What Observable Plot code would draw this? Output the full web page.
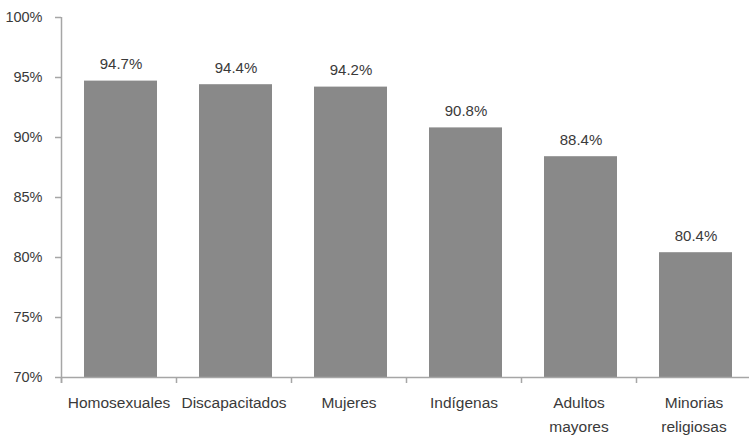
<!DOCTYPE html>
<html>
<head>
<meta charset="utf-8">
<script src="https://cdn.jsdelivr.net/npm/d3@7"></script>
<script src="https://cdn.jsdelivr.net/npm/@observablehq/plot@0.6"></script>
<style>
  html, body { margin: 0; padding: 0; background: #fff; }
  #chart svg { display: block; }
</style>
</head>
<body>
<div id="chart"></div>
<script>
const categories = ["Homosexuales", "Discapacitados", "Mujeres", "Indígenas", "Adultos\nmayores", "Minorias\nreligiosas"];
const values = [94.7, 94.4, 94.2, 90.8, 88.4, 80.4];
const valueLabels = ["94.7%", "94.4%", "94.2%", "90.8%", "88.4%", "80.4%"];
const yTicks = [70, 75, 80, 85, 90, 95, 100];

const data = categories.map((c, i) => ({cat: c, value: values[i], label: valueLabels[i]}));

const W = 749, H = 435, mL = 61, mR = -2;
const step = (W - mL - mR) / categories.length;
const axisColor = "#a6a6a6";
const textColor = "#3a3a3a";

const chart = Plot.plot({
  width: W,
  height: H,
  marginLeft: mL,
  marginRight: mR,
  marginTop: 17,
  marginBottom: 58,
  style: {fontFamily: "'Liberation Sans', Arial, sans-serif", fontSize: "14px", color: textColor, background: "#fff", overflow: "hidden"},
  x: {domain: categories, padding: 0},
  y: {domain: [70, 100]},
  marks: [
    Plot.barY(data, {x: "cat", y1: 70, y2: "value", fill: "#898989", insetLeft: 23, insetRight: 19}),
    Plot.text(data, {x: "cat", y: "value", text: "label", dy: -17, dx: 2, fontSize: 15, fill: textColor}),
    Plot.ruleY([70], {stroke: axisColor, strokeWidth: 1.5}),
    Plot.ruleX(categories, {x: d => d, dx: -step / 2, y1: 70, y2: 69.5, stroke: axisColor, strokeWidth: 1.5}),
    Plot.ruleX([categories[0]], {x: d => d, dx: -step / 2, y1: 69.5, y2: 100, stroke: axisColor, strokeWidth: 1.5}),
    Plot.axisY({ticks: yTicks, tickFormat: d => d + "%", tickSize: 6, tickPadding: 13, stroke: axisColor, strokeWidth: 1.5, fill: textColor, fontSize: 14.5, label: null}),
    Plot.axisX({tickSize: 0, tickPadding: 13, lineHeight: 1.55, fill: textColor, fontSize: 15.5, label: null})
  ]
});
document.getElementById("chart").appendChild(chart);
</script>
</body>
</html>
